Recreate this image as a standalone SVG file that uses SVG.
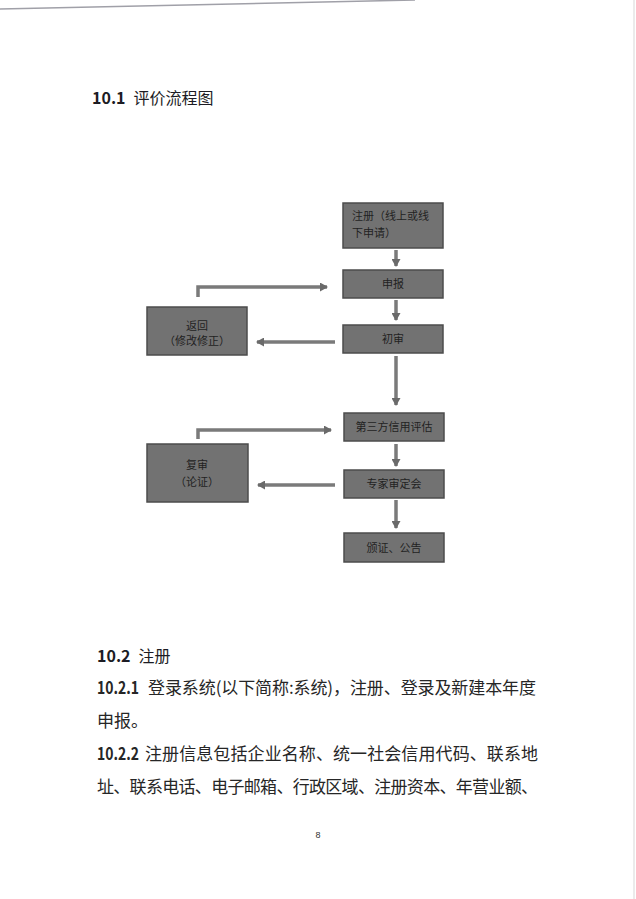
<svg xmlns="http://www.w3.org/2000/svg" width="636" height="899" viewBox="0 0 636 899">
<style>
.box{fill:#727272;stroke:#4c4c4c;stroke-width:1.5}
.bt{font-family:"Noto Sans CJK SC","Noto Sans",sans-serif;font-size:11px;fill:#222}
.c{text-anchor:middle}
.h{font-family:"Noto Sans CJK SC","Noto Sans",sans-serif;font-size:16px;fill:#1c1c24}
.b{font-weight:bold}
.p{font-family:"Noto Sans CJK SC","Noto Sans",sans-serif;font-size:17px;fill:#262626}
.ar{fill:none;stroke:#7a7a7a;stroke-width:3.5;marker-end:url(#ah)}
</style>
<defs>
<marker id="ah" markerUnits="userSpaceOnUse" markerWidth="9" markerHeight="9" refX="7" refY="4.5" orient="auto">
<path d="M0,0 L8,4.5 L0,9 Z" fill="#6a6a6a"/>
</marker>
</defs>
<rect width="636" height="899" fill="#ffffff"/>
<line x1="0" y1="9" x2="415" y2="0" stroke="#a0a0a8" stroke-width="1.5"/>
<line x1="634" y1="0" x2="634" y2="899" stroke="#e4e4e4" stroke-width="1.5"/>

<text class="h" x="92" y="104"><tspan class="b">10.1</tspan><tspan dx="8">评价流程图</tspan></text>

<g id="connectors">
<path class="ar" d="M396,250 V266"/>
<path class="ar" d="M396,300 V320"/>
<path class="ar" d="M396,356 V405"/>
<path class="ar" d="M396,444 V466"/>
<path class="ar" d="M396,500 V528"/>
<path class="ar" d="M198,297 V287 H327"/>
<path class="ar" d="M335,342 H257"/>
<path class="ar" d="M198,439 V430 H331"/>
<path class="ar" d="M335,485 H258"/>
</g>

<g id="n_register">
<rect class="box" x="343" y="203" width="100" height="45"/>
<text class="bt" x="352" y="220">注册（线上或线</text>
<text class="bt" x="352" y="237">下申请）</text>
</g>
<g id="n_declare">
<rect class="box" x="343" y="270" width="100" height="28"/>
<text class="bt c" x="393" y="288">申报</text>
</g>
<g id="n_firstreview">
<rect class="box" x="343" y="325" width="100" height="28"/>
<text class="bt c" x="393" y="343">初审</text>
</g>
<g id="n_return">
<rect class="box" x="147" y="307" width="100" height="48"/>
<text class="bt c" x="197" y="330">返回</text>
<text class="bt c" x="197" y="345">（修改修正）</text>
</g>
<g id="n_thirdparty">
<rect class="box" x="344" y="413" width="100" height="28"/>
<text class="bt c" x="394" y="431">第三方信用评估</text>
</g>
<g id="n_expert">
<rect class="box" x="344" y="470" width="100" height="28"/>
<text class="bt c" x="394" y="488">专家审定会</text>
</g>
<g id="n_publish">
<rect class="box" x="344" y="533" width="100" height="29"/>
<text class="bt c" x="394" y="552">颁证、公告</text>
</g>
<g id="n_rereview">
<rect class="box" x="147" y="444" width="101" height="58"/>
<text class="bt c" x="197" y="469">复审</text>
<text class="bt c" x="197" y="486">（论证）</text>
</g>

<text class="h" x="97" y="662"><tspan class="b">10.2</tspan><tspan dx="8">注册</tspan></text>
<text class="p b" x="97" y="694" textLength="42" lengthAdjust="spacingAndGlyphs">10.2.1</text>
<text class="p" x="148" y="694" textLength="388" lengthAdjust="spacing">登录系统(以下简称:系统)，注册、登录及新建本年度</text>
<text class="p" x="97" y="727">申报。</text>
<text class="p b" x="97" y="760" textLength="42" lengthAdjust="spacingAndGlyphs">10.2.2</text>
<text class="p" x="145" y="760" textLength="393" lengthAdjust="spacing">注册信息包括企业名称、统一社会信用代码、联系地</text>
<text class="p" x="97" y="793" textLength="441" lengthAdjust="spacing">址、联系电话、电子邮箱、行政区域、注册资本、年营业额、</text>
<text x="318" y="838" text-anchor="middle" style="font-family:'Liberation Sans',sans-serif;font-size:9px;fill:#333">8</text>
</svg>
